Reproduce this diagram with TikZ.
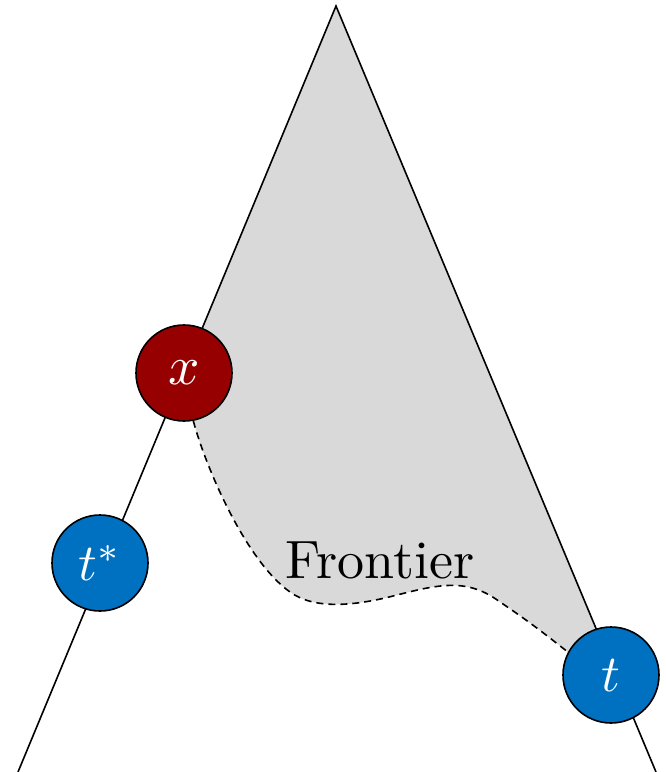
\documentclass[tikz,border=0pt]{standalone}
\usepackage{graphicx}
\usetikzlibrary{backgrounds,calc}
\definecolor{xred}{RGB}{150,0,0}
\definecolor{tblue}{RGB}{0,112,192}
\definecolor{frontgrey}{RGB}{217,217,217}
\tikzset{
  treenode/.style={circle, draw=black, line width=1.6pt, minimum size=96pt, inner sep=0pt, text=white},
  edge/.style={line width=1.6pt},
  frontierline/.style={line width=1.6pt, dash pattern=on 7pt off 5pt},
}
\begin{document}
\begin{tikzpicture}[x=1pt, y=-1pt]
\useasboundingbox (0,0) rectangle (665,772);
\coordinate (apex) at (336,6);
\coordinate (lend) at (18,772);
\coordinate (rend) at (656,772);
\node[treenode, fill=xred] (x) at (184,373) {\scalebox{5.5}{$x$}};
\node[treenode, fill=tblue] (ts) at (100,563) {\scalebox{5.2}{$t^{*}$}};
\node[treenode, fill=tblue] (t) at (611,675) {\scalebox{5.2}{$t$}};
\begin{scope}[on background layer]
  \fill[frontgrey] (apex) -- ($(apex)!0.479!(lend)$) -- (x.-79)
    .. controls (205,465) and (245,560) .. (290,592)
    .. controls (315,610) and (355,606) .. (397,595)
    .. controls (440,584) and (468,578) .. (500,602)
    .. controls (530,622) and (550,638) .. (t.152) -- (t.center) -- ($(apex)!0.818!(rend)$) -- cycle;
  \draw[frontierline] (x.-79)
    .. controls (205,465) and (245,560) .. (290,592)
    .. controls (315,610) and (355,606) .. (397,595)
    .. controls (440,584) and (468,578) .. (500,602)
    .. controls (530,622) and (550,638) .. (t.152);
  \draw[edge] (lend) -- (apex) -- (rend);
\end{scope}
\node (label) at (380,560) {\scalebox{5.4}{Frontier}};
\end{tikzpicture}
\end{document}
